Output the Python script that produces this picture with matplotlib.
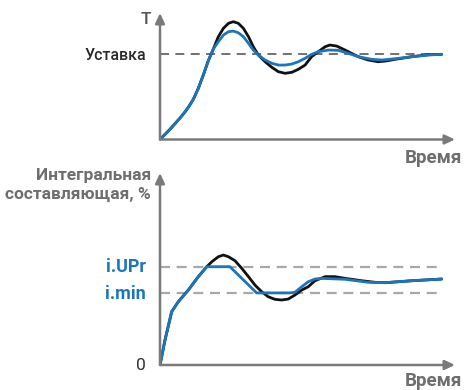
import matplotlib
matplotlib.use("Agg")
import matplotlib.pyplot as plt
from matplotlib import font_manager

# --- data ----------------------------------------------------------------
# top panel: temperature, setpoint = 1.0, time in 0..100
setpoint = 1.0
t_top = [0, 1.78, 3.55, 5.3, 7.1, 8.9, 10.05, 11.8, 13.6, 15.4, 17.15, 18.9]
T_rise = [0, 0.06, 0.12, 0.185, 0.252, 0.325, 0.378, 0.47, 0.6, 0.76, 0.925, 1.06]

t_black = t_top + [20.7, 22.5, 24.3, 26.0, 27.8, 29.6, 31.4, 33.1, 34.9, 37.3, 39.7, 42.0,
                   44.4, 46.8, 49.1, 51.5, 53.8, 56.2, 58.6, 60.3, 62.7, 65.7, 68.0, 70.4,
                   73.9, 77.4, 80.0, 83.4, 89.4, 95.3, 100]
T_black = T_rise + [1.207, 1.305, 1.364, 1.383, 1.364, 1.305, 1.207, 1.09, 0.992, 0.913, 0.847, 0.796,
                    0.777, 0.789, 0.824, 0.874, 0.972, 1.031, 1.089, 1.109, 1.097, 1.05, 1.011, 0.972,
                    0.933, 0.913, 0.921, 0.941, 0.972, 0.995, 1.0]

t_blue = t_top + [20.7, 22.5, 24.3, 26.0, 27.8, 29.6, 31.4, 33.1, 34.9, 37.3, 39.7, 42.0,
                  44.4, 46.8, 49.1, 51.5, 53.8, 56.2, 59.8, 63.3, 66.9, 70.4, 75.1, 78.7,
                  83.4, 89.4, 95.3, 100]
T_blue = T_rise + [1.148, 1.226, 1.265, 1.273, 1.253, 1.207, 1.129, 1.05, 0.992, 0.933, 0.894, 0.874,
                   0.874, 0.886, 0.913, 0.953, 1.0, 1.031, 1.05, 1.047, 1.011, 0.972, 0.941, 0.933,
                   0.948, 0.972, 0.992, 1.0]

# bottom panel: integral component, %
i_upr = 75
i_min = 55
t_irise = [0, 1.78, 4.15, 6.5, 10.05, 13.6, 16.6]
I_rise = [0, 19.1, 40.7, 48.3, 57.2, 67.4, i_upr]

t_iblack = t_irise + [18.4, 20.7, 22.5, 24.3, 26.6, 29.0, 31.4, 33.7, 36.1, 38.4, 40.8, 43.2,
                      45.5, 47.9, 50.3, 52.6, 55.0, 58.6, 62.1, 65.7, 71.6, 76.3, 79.9, 89.4, 100]
I_iblack = I_rise + [78.8, 82.6, 83.9, 82.6, 79.6, 73.8, 67.4, 61.0, 55.9, 52.1, 50.1, 49.6,
                     50.3, 53.4, 57.2, 59.7, 64.3, 67.4, 67.4, 66.1, 64.3, 63.1, 62.8, 64.3, 65.6]

t_iblue = t_irise + [24.8, 34.3, 46.1, 47.9, 50.3, 52.6, 55.0, 57.4, 65.7, 73.9, 79.9, 89.4, 100]
I_iblue = I_rise + [i_upr, i_min, i_min, 55.5, 59.7, 63.5, 65.6, 66.1, 65.4, 63.1, 62.8, 64.3, 65.6]

# --- styling ----------------------------------------------------------------
W, H = 466, 390
BLUE = "#1b75bb"
BLACK = "#111111"
AXIS = "#7a7a7a"
LABEL = "#6e6e6e"

installed = {f.name for f in font_manager.fontManager.ttflist}
family = [f for f in ["Liberation Sans Narrow", "Roboto", "DejaVu Sans"] if f in installed]
plt.rcParams["font.family"] = family

fig = plt.figure(figsize=(W / 100, H / 100), dpi=100)


def px_axes(x0, x1, ytop, ybot):
    return fig.add_axes([x0 / W, 1 - ybot / H, (x1 - x0) / W, (ybot - ytop) / H])


def draw_frame(ax, xmax, ymax):
    ax.set_xlim(0, xmax)
    ax.set_ylim(0, ymax)
    ax.axis("off")
    arrow = dict(arrowstyle="-|>,head_length=0.6,head_width=0.28", color=AXIS, lw=1.8,
                 shrinkA=0, shrinkB=0)
    ax.annotate("", xy=(0, 1), xytext=(0, 0), xycoords="axes fraction",
                arrowprops=arrow, annotation_clip=False)
    ax.annotate("", xy=(1, 0), xytext=(0, 0), xycoords="axes fraction",
                arrowprops=arrow, annotation_clip=False)


line_kw = dict(lw=2.0, solid_joinstyle="round", solid_capstyle="round")

# top panel
ax1 = px_axes(160, 455, 13, 139.5)
draw_frame(ax1, 104.7, 1.485)
ax1.plot([0, 100], [setpoint, setpoint], color="#666666", lw=1.3, dashes=(5, 3.5))
ax1.plot(t_black, T_black, color=BLACK, **line_kw)
ax1.plot(t_blue, T_blue, color=BLUE, **line_kw)

# bottom panel
ax2 = px_axes(160, 455, 173, 365)
draw_frame(ax2, 104.7, 146.5)
for lvl in (i_upr, i_min):
    ax2.plot([0, 100], [lvl, lvl], color="#a8a8a8", lw=1.6, dashes=(4.5, 3))
ax2.plot(t_iblack, I_iblack, color=BLACK, **line_kw)
ax2.plot(t_iblue, I_iblue, color=BLUE, **line_kw)


def label(x, y, s, **kw):
    fig.text(x / W, 1 - y / H, s, ha="right", va="center", **kw)


label(151, 20, "T", fontsize=12.5, color="#555555", fontweight="medium")
label(146, 55, "Уставка", fontsize=11.5, color="#2a2a2a", fontweight="medium")
label(462, 158, "Время", fontsize=13.5, color=LABEL, fontweight="bold")
label(151, 185, "Интегральная\nсоставляющая, %", fontsize=12.5, color=LABEL,
      fontweight="bold", multialignment="right", linespacing=1.3)
label(146, 267, "i.UPr", fontsize=13, color=BLUE, fontweight="bold")
label(146, 294, "i.min", fontsize=13, color=BLUE, fontweight="bold")
label(146, 366, "0", fontsize=12.5, color="#333333")
label(462, 381, "Время", fontsize=13.5, color=LABEL, fontweight="bold")

fig.savefig("out.png", dpi=100)
